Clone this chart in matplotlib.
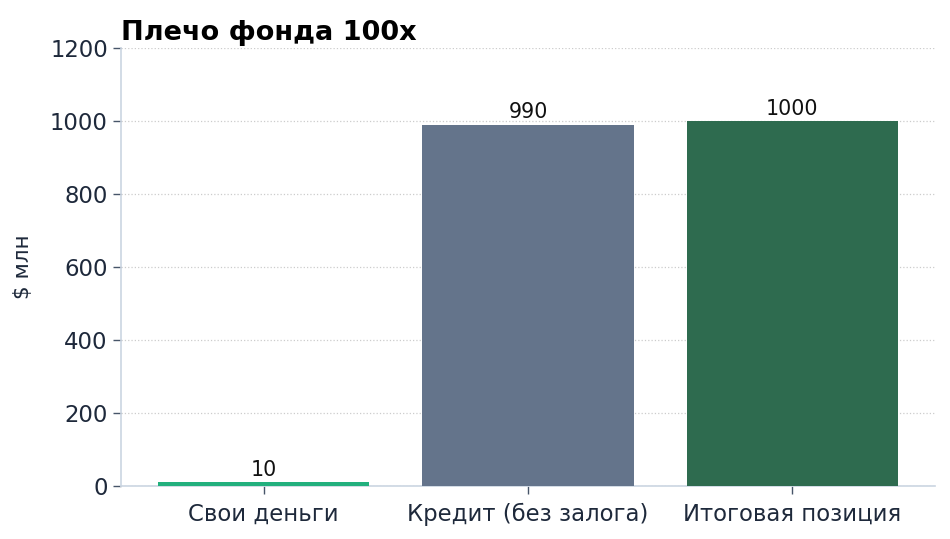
import matplotlib
matplotlib.use("Agg")
import matplotlib.pyplot as plt

categories = ["Свои деньги", "Кредит (без залога)", "Итоговая позиция"]
values = [10, 990, 1000]
colors = ["#22b07d", "#64748b", "#2e6b4f"]
title = "Плечо фонда 100x"
ylabel = "$ млн"

plt.rcParams['font.family'] = ['DejaVu Sans']
fig = plt.figure(figsize=(9.5, 5.39), dpi=100)
ax = fig.add_axes([0.1274, 0.0983, 0.8568, 0.8126])
x = range(len(categories))
bars = ax.bar(x, values, width=0.8, color=colors, zorder=3)
ax.set_xticks(list(x))
ax.set_xticklabels(categories)
ax.set_ylim(0, 1200)
ax.set_yticks(range(0, 1201, 200))
for b, v in zip(bars, values):
    ax.text(b.get_x() + b.get_width() / 2, v + 6, f"{v}", ha="center", va="bottom",
            fontsize=14.8, color="#111111")
ax.grid(axis="y", linestyle=":", color="#cccccc", linewidth=0.9, zorder=0)
for s in ["top", "right"]:
    ax.spines[s].set_visible(False)
for s in ["left", "bottom"]:
    ax.spines[s].set_color("#cbd5e1")
    ax.spines[s].set_linewidth(1.2)
ax.tick_params(axis="both", labelsize=16.4, length=6, width=1, colors="#475569", labelcolor="#1e293b")
ax.tick_params(axis="x", pad=6)
ax.set_ylabel(ylabel, fontsize=15.5, color="#1e293b", labelpad=12)
ax.set_title(title, loc="left", fontsize=19.5, fontweight="bold", color="#000000", pad=6)
fig.savefig("out.png", dpi=100)
